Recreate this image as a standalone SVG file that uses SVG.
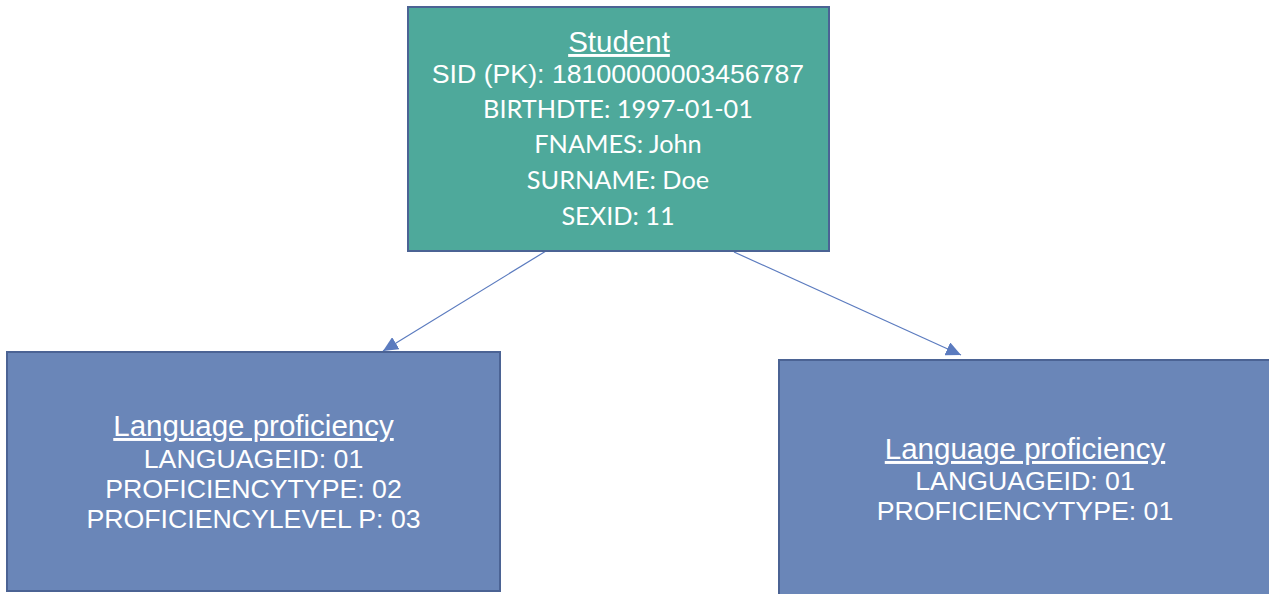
<svg xmlns="http://www.w3.org/2000/svg" width="1269" height="594" viewBox="0 0 1269 594">
<style>
.st{fill:#4ea99b;stroke:#4b6394;stroke-width:2}
.lp{fill:#6a86b8;stroke:#4b6394;stroke-width:2}
.t{fill:#ffffff;text-anchor:middle}
.a{font-family:"Liberation Sans",Arial,sans-serif;font-size:26.7px}
.h{font-family:"Liberation Sans",Arial,sans-serif;font-size:29.5px;text-decoration:underline}
.c{font-family:Lato,"Open Sans",sans-serif;font-size:25.3px}
.cn{stroke:#5b7bbf;stroke-width:1.2;fill:none}
</style>
<defs>
<marker id="ah" viewBox="0 0 15 14" refX="15" refY="7" markerWidth="15" markerHeight="14" markerUnits="userSpaceOnUse" orient="auto">
<path d="M0,0 L15,7 L0,14 Z" fill="#5b7bbf"/>
</marker>
</defs>
<g id="connectors">
<line class="cn" x1="546" y1="251" x2="383" y2="351" marker-end="url(#ah)"/>
<line class="cn" x1="734" y1="252" x2="961" y2="355" marker-end="url(#ah)"/>
</g>
<g id="student">
<rect class="st" x="408" y="7" width="421" height="244"/>
<text class="t h" x="619" y="52">Student</text>
<text class="t a" x="618" y="83">SID (PK): 18100000003456787</text>
<text class="t c" x="618" y="118">BIRTHDTE: 1997-01-01</text>
<text class="t c" x="618" y="153">FNAMES: John</text>
<text class="t c" x="618" y="189">SURNAME: Doe</text>
<text class="t c" x="618" y="225">SEXID: 11</text>
</g>
<g id="lang1">
<rect class="lp" x="7" y="352" width="493" height="239"/>
<text class="t h" x="253.5" y="436">Language proficiency</text>
<text class="t a" x="253.5" y="468">LANGUAGEID: 01</text>
<text class="t a" x="253.5" y="498">PROFICIENCYTYPE: 02</text>
<text class="t a" x="253.5" y="528">PROFICIENCYLEVEL P: 03</text>
</g>
<g id="lang2">
<rect class="lp" x="779" y="360" width="500" height="245"/>
<text class="t h" x="1025" y="459">Language proficiency</text>
<text class="t a" x="1025" y="490">LANGUAGEID: 01</text>
<text class="t a" x="1025" y="520">PROFICIENCYTYPE: 01</text>
</g>
</svg>
